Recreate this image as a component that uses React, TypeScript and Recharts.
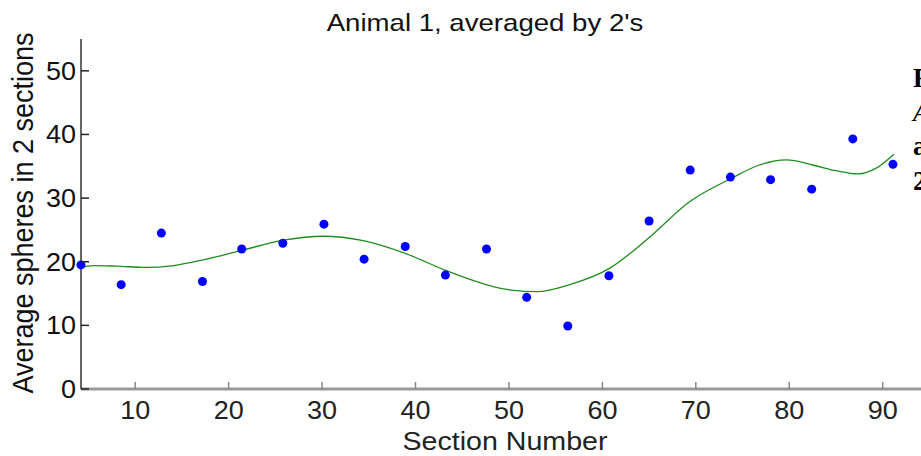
import { ComposedChart, Scatter, Line, XAxis, YAxis } from 'recharts';

// averaged sections (x) and average sphere counts (y)
const sectionX = [4.2, 8.5, 12.8, 17.2, 21.4, 25.8, 30.2, 34.5, 38.9, 43.2, 47.6, 51.9, 56.3, 60.7, 65.0, 69.4, 73.7, 78.0, 82.4, 86.8, 91.1];
const avgSpheres = [19.5, 16.4, 24.5, 16.9, 22.0, 22.9, 25.9, 20.4, 22.4, 17.9, 22.0, 14.4, 9.9, 17.8, 26.4, 34.4, 33.3, 32.9, 31.4, 39.3, 35.3];

// smooth fit curve
const fitX = [4.2, 5.5, 8, 11.2, 14.1, 17.3, 21.2, 25.9, 30.1, 34.4, 38.9, 43.3, 46.9, 48.3, 50.5, 53.0, 56.5, 60.8, 64.7, 69.4, 73.8, 76.8, 79.7, 82.5, 85.0, 87.4, 89.3, 91.2];
const fitY = [19.1, 19.4, 19.3, 19.1, 19.4, 20.3, 21.7, 23.4, 24.0, 23.3, 21.3, 18.6, 16.7, 16.1, 15.5, 15.3, 16.4, 19.0, 23.4, 29.5, 33.1, 35.2, 36.0, 35.2, 34.3, 33.8, 34.7, 36.9];

const xTicks = [10, 20, 30, 40, 50, 60, 70, 80, 90];
const yTicks = [0, 10, 20, 30, 40, 50];

const points = sectionX.map((x, i) => ({ x, y: avgSpheres[i] }));
const curve = fitX.map((x, i) => ({ x, y: fitY[i] }));

const FONT = '"Liberation Sans", Arial, sans-serif';
const SERIF = '"Liberation Serif", "Times New Roman", serif';

const YTick = (props: any) => {
  const { x, y, payload } = props;
  return (
    <g>
      <line x1={x} x2={x + 8} y1={y} y2={y} stroke="#222" strokeWidth={1.5} />
      <text transform={`translate(${x - 5},${y + 9}) scale(1.08,1)`} textAnchor="end" fontSize={25} fontFamily={FONT} fill="#111">
        {payload.value}
      </text>
    </g>
  );
};

const XTick = (props: any) => {
  const { x, y, payload } = props;
  return (
    <g>
      <line x1={x} x2={x} y1={y} y2={y - 7} stroke="#888" strokeWidth={1.5} />
      <text transform={`translate(${x},${y + 30}) scale(1.08,1)`} textAnchor="middle" fontSize={25} fontFamily={FONT} fill="#222">
        {payload.value}
      </text>
    </g>
  );
};

const Dot = (props: any) => <circle cx={props.cx} cy={props.cy} r={4.5} fill="#0000ff" />;

export default function App() {
  return (
    <div style={{ position: 'absolute', left: 0, top: 0, width: 921, height: 456, background: '#fff', overflow: 'hidden' }}>
      <ComposedChart width={921} height={456} margin={{ top: 39, right: 0, bottom: 37, left: 21 }}>
        <XAxis
          type="number"
          dataKey="x"
          domain={[4.2, 94.1]}
          ticks={xTicks}
          tickLine={false}
          tickSize={0}
          tickMargin={0}
          tick={<XTick />}
          axisLine={{ stroke: '#999', strokeWidth: 3 }}
          height={30}
        />
        <YAxis
          type="number"
          dataKey="y"
          domain={[0, 55]}
          ticks={yTicks}
          tickLine={false}
          tickSize={0}
          tickMargin={0}
          tick={<YTick />}
          axisLine={{ stroke: '#333', strokeWidth: 1.5 }}
          width={60}
        />
        <Line data={curve} dataKey="y" type="monotone" stroke="#1e8c1e" strokeWidth={1.3} dot={false} isAnimationActive={false} />
        <Scatter data={points} dataKey="y" shape={<Dot />} isAnimationActive={false} />
      </ComposedChart>
      <svg width={921} height={456} style={{ position: 'absolute', left: 0, top: 0, pointerEvents: 'none' }}>
        <text transform="translate(485,30.5) scale(1.15,1)" textAnchor="middle" fontSize={24} fontFamily={FONT} fill="#111">
          Animal 1, averaged by 2's
        </text>
        <text transform="translate(505,450) scale(1.1,1)" textAnchor="middle" fontSize={26} fontFamily={FONT} fill="#222">
          Section Number
        </text>
        <text transform="translate(33,213) scale(1.09,1) rotate(-90)" textAnchor="middle" fontSize={27} fontFamily={FONT} fill="#111">
          Average spheres in 2 sections
        </text>
        <text x={913} y={87} fontSize={27} fontWeight="bold" fontFamily={SERIF} fill="#000">F</text>
        <text x={913} y={121} fontSize={27} fontStyle="italic" fontFamily={SERIF} fill="#000">A</text>
        <text x={913} y={155} fontSize={27} fontWeight="bold" fontFamily={SERIF} fill="#000">a</text>
        <text x={913} y={190} fontSize={27} fontWeight="bold" fontFamily={SERIF} fill="#000">2</text>
      </svg>
    </div>
  );
}
